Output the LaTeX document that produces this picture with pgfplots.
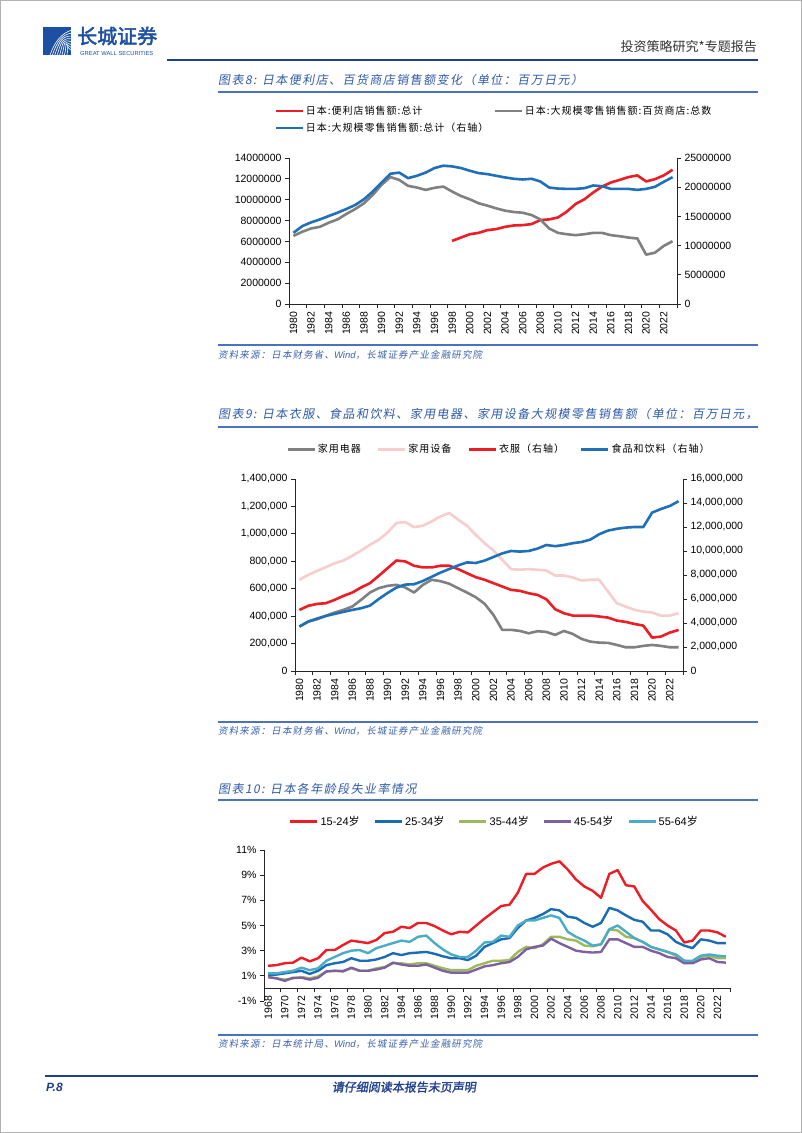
\documentclass[border=0pt]{standalone}
\usepackage{fontspec}
\usepackage{graphicx}
\usepackage{pgfplots}
\usepackage{pgfplotstable}
\pgfplotsset{compat=1.18}
\setmainfont{Liberation Sans}
\newfontfamily\cjk{Noto Sans CJK SC}
\newfontfamily\cjkit[FakeSlant=0.18,LetterSpace=12]{Noto Sans CJK SC}
\newfontfamily\cjkleg[LetterSpace=10]{Noto Sans CJK SC}
\newfontfamily\cjkbf[FakeBold=2.5]{Noto Sans CJK SC}
\newfontfamily\cjkbfit[FakeBold=1.5,FakeSlant=0.15]{Noto Sans CJK SC}
\definecolor{logoblue}{HTML}{1D50A2}
\definecolor{darkblue}{HTML}{1F3F8F}
\definecolor{titleblue}{HTML}{2F5BAA}
\definecolor{lineblue}{HTML}{4A72BE}
\definecolor{srcblue}{HTML}{3A64B0}
\definecolor{cred}{HTML}{EE1C25}
\definecolor{cgray}{HTML}{808080}
\definecolor{cblue}{HTML}{1F70B8}
\definecolor{cpink}{HTML}{F7CDCD}
\definecolor{tblue}{HTML}{1A6DB5}
\definecolor{tgreen}{HTML}{9BBB59}
\definecolor{tpurple}{HTML}{7E60A0}
\definecolor{tcyan}{HTML}{4BACC6}

\pgfplotstableread{
year dept total
1980 6530000 12180000
1981 6920000 13330000
1982 7240000 13970000
1983 7400000 14480000
1984 7790000 15060000
1985 8110000 15630000
1986 8630000 16260000
1987 9100000 16950000
1988 9660000 17930000
1989 10460000 19250000
1990 11430000 20800000
1991 12170000 22300000
1992 11900000 22500000
1993 11330000 21550000
1994 11170000 21950000
1995 10940000 22500000
1996 11140000 23280000
1997 11260000 23680000
1998 10780000 23560000
1999 10360000 23280000
2000 10040000 22820000
2001 9660000 22410000
2002 9430000 22240000
2003 9170000 21950000
2004 8950000 21670000
2005 8820000 21440000
2006 8750000 21320000
2007 8530000 21440000
2008 8110000 20980000
2009 7240000 19940000
2010 6820000 19770000
2011 6690000 19710000
2012 6600000 19710000
2013 6690000 19830000
2014 6820000 20290000
2015 6820000 20170000
2016 6600000 19710000
2017 6500000 19710000
2018 6370000 19710000
2019 6280000 19540000
2020 4730000 19710000
2021 4920000 20060000
2022 5570000 20920000
2023 6020000 21720000
}\tEightA

\pgfplotstableread{
year cvs
1998 6050000
1999 6370000
2000 6690000
2001 6820000
2002 7080000
2003 7180000
2004 7400000
2005 7530000
2006 7560000
2007 7660000
2008 8050000
2009 8110000
2010 8300000
2011 8850000
2012 9590000
2013 10040000
2014 10690000
2015 11260000
2016 11650000
2017 11900000
2018 12170000
2019 12330000
2020 11750000
2021 11970000
2022 12330000
2023 12870000
}\tEightB

\pgfplotstableread{
year elec equip cloth food
1980 324000 665000 5090000 3700000
1981 360000 701000 5430000 4120000
1982 377000 730000 5590000 4370000
1983 402000 757000 5650000 4590000
1984 426000 786000 5930000 4760000
1985 446000 806000 6260000 4930000
1986 470000 840000 6540000 5090000
1987 519000 879000 6960000 5230000
1988 572000 920000 7320000 5450000
1989 604000 957000 7930000 6000000
1990 621000 1010000 8570000 6500000
1991 628000 1079000 9210000 6950000
1992 609000 1086000 9130000 7200000
1993 572000 1049000 8770000 7230000
1994 628000 1059000 8630000 7500000
1995 665000 1091000 8630000 7850000
1996 655000 1127000 8770000 8200000
1997 636000 1152000 8770000 8500000
1998 604000 1103000 8490000 8800000
1999 572000 1059000 8150000 9050000
2000 538000 993000 7820000 9000000
2001 490000 932000 7600000 9200000
2002 409000 879000 7320000 9500000
2003 300000 811000 7040000 9800000
2004 300000 743000 6760000 10000000
2005 292000 738000 6680000 9950000
2006 275000 743000 6480000 10000000
2007 290000 738000 6340000 10200000
2008 285000 733000 5980000 10500000
2009 263000 696000 5150000 10400000
2010 292000 696000 4810000 10500000
2011 270000 682000 4620000 10650000
2012 234000 660000 4620000 10750000
2013 214000 665000 4620000 10950000
2014 207000 665000 4540000 11400000
2015 205000 579000 4450000 11700000
2016 190000 494000 4200000 11850000
2017 173000 470000 4090000 11950000
2018 173000 446000 3920000 12000000
2019 183000 433000 3780000 12000000
2020 190000 426000 2780000 13200000
2021 183000 404000 2870000 13500000
2022 173000 404000 3200000 13750000
2023 173000 421000 3420000 14150000
}\tNine

\pgfplotstableread{
year a b c d e
1968 1.8 1.1 0.9 0.9 1.2
1969 1.85 1.1 0.8 0.8 1.2
1970 2.0 1.2 0.7 0.6 1.3
1971 2.05 1.3 0.8 0.85 1.4
1972 2.45 1.4 0.9 0.85 1.65
1973 2.15 1.15 0.8 0.7 1.45
1974 2.4 1.4 0.95 0.85 1.6
1975 3.05 1.85 1.35 1.35 2.2
1976 3.05 2.0 1.4 1.4 2.5
1977 3.45 2.1 1.4 1.35 2.8
1978 3.8 2.4 1.6 1.65 3.0
1979 3.7 2.2 1.4 1.4 3.05
1980 3.6 2.2 1.4 1.4 2.8
1981 3.85 2.3 1.6 1.5 3.2
1982 4.4 2.5 1.7 1.65 3.4
1983 4.5 2.8 2.0 2.05 3.6
1984 4.9 2.65 2.0 1.9 3.8
1985 4.8 2.8 1.9 1.8 3.7
1986 5.2 2.85 2.0 1.8 4.1
1987 5.2 2.9 2.0 1.9 4.2
1988 4.95 2.75 1.8 1.65 3.6
1989 4.6 2.55 1.6 1.4 3.1
1990 4.3 2.4 1.45 1.25 2.7
1991 4.5 2.4 1.45 1.25 2.5
1992 4.45 2.25 1.45 1.25 2.5
1993 5.0 2.6 1.8 1.5 3.0
1994 5.55 3.3 2.0 1.75 3.65
1995 6.05 3.6 2.2 1.85 3.7
1996 6.55 3.9 2.2 2.0 4.2
1997 6.65 4.0 2.25 2.1 4.1
1998 7.6 4.8 2.9 2.5 5.0
1999 9.1 5.4 3.3 3.1 5.4
2000 9.1 5.6 3.2 3.3 5.4
2001 9.6 5.9 3.5 3.4 5.6
2002 9.9 6.3 4.1 3.95 5.8
2003 10.1 6.2 4.1 3.6 5.6
2004 9.45 5.7 3.9 3.3 4.5
2005 8.65 5.6 3.8 3.0 4.1
2006 8.1 5.2 3.4 2.9 3.8
2007 7.75 4.9 3.35 2.85 3.4
2008 7.2 5.2 3.5 2.9 3.5
2009 9.1 6.4 4.7 3.9 4.7
2010 9.4 6.2 4.6 3.9 5.0
2011 8.2 5.8 4.1 3.6 4.5
2012 8.1 5.45 4.0 3.3 4.0
2013 6.95 5.3 3.7 3.3 3.7
2014 6.25 4.6 3.3 3.0 3.3
2015 5.5 4.6 3.1 2.8 3.1
2016 5.0 4.3 2.9 2.5 2.9
2017 4.6 3.7 2.6 2.4 2.7
2018 3.65 3.4 2.2 2.0 2.2
2019 3.8 3.2 2.1 2.0 2.2
2020 4.6 3.9 2.5 2.3 2.6
2021 4.6 3.8 2.6 2.4 2.7
2022 4.45 3.6 2.4 2.1 2.6
2023 4.1 3.6 2.4 2.05 2.55
}\tTen

\pgfplotsset{
  common/.style={
    scale only axis, anchor=south west,
    scaled y ticks=false, scaled x ticks=false,
    axis line style={-, black!85, line width=0.8pt},
    tick style={black!85, line width=0.8pt},
    tick align=outside, major tick length=4pt, minor tick length=4pt,
    tick label style={font=\fontsize{10.5}{12}\selectfont, black},
    /pgf/number format/1000 sep={},
    /pgf/number format/assume math mode=true,
    legend image code/.code={\draw[##1] (0pt,0pt) -- (27pt,0pt);},
    legend cell align=left,
  },
  yearx/.style={
    xtick={#1}, major x tick style={draw=none},
    x tick label style={rotate=90, anchor=east},
  },
}

\begin{document}
\begin{tikzpicture}[x=1pt,y=1pt]
\path[use as bounding box] (0,0) rectangle (802,1133);
\fill[white] (0,0) rectangle (802,1133);
\draw[gray!60, line width=0.8pt] (0.4,0.4) rectangle (801.6,1132.6);

% ---------- header ----------
\begin{scope}
\clip (43,1078) rectangle (71,1106);
\fill[logoblue] (43,1078) rectangle (71,1106);
\foreach \k in {0,...,7} {
  \draw[white, line width=0.6pt] (50+\k*2.4,1078) .. controls (55+\k*2.2,1092) and (62,1100-\k*1.5) .. (72,1103-\k*3);
}
\end{scope}
\node[anchor=west, inner sep=0, text=logoblue, font=\cjkbf\fontsize{20}{20}\selectfont] at (77,1097) {长城证券};
\node[anchor=west, inner sep=0, text=logoblue, font=\fontsize{5.8}{6}\selectfont] at (80,1079) {GREAT WALL SECURITIES};
\node[anchor=east, inner sep=0, text=black!80, font=\cjk\fontsize{13}{13}\selectfont] at (757,1086) {投资策略研究*专题报告};
\draw[darkblue, line width=1.6pt] (167,1073) -- (758,1073);

% ---------- chart 8 texts ----------
\node[anchor=west, inner sep=0, text=titleblue, font=\cjkit\fontsize{12}{12}\selectfont] at (218,1053) {图表8: 日本便利店、百货商店销售额变化（单位：百万日元）};
\draw[lineblue, line width=1.1pt] (218,1041) -- (758,1041);
\draw[lineblue, line width=1.1pt] (218,788) -- (758,788);
\node[anchor=west, inner sep=0, text=srcblue, font=\cjkit\fontsize{9.5}{10}\selectfont] at (218,778) {资料来源：日本财务省、{\normalfont\itshape Wind}，长城证券产业金融研究院};

% ---------- chart 9 texts ----------
\begin{scope}
\clip (210,705) rectangle (758,735);
\node[anchor=west, inner sep=0, text=titleblue, font=\cjkit\fontsize{12}{12}\selectfont] at (218,719) {图表9: 日本衣服、食品和饮料、家用电器、家用设备大规模零售销售额（单位：百万日元，};
\end{scope}
\draw[lineblue, line width=1.1pt] (218,706) -- (758,706);
\draw[lineblue, line width=1.1pt] (218,411) -- (758,411);
\node[anchor=west, inner sep=0, text=srcblue, font=\cjkit\fontsize{9.5}{10}\selectfont] at (218,402) {资料来源：日本财务省、{\normalfont\itshape Wind}，长城证券产业金融研究院};

% ---------- chart 10 texts ----------
\node[anchor=west, inner sep=0, text=titleblue, font=\cjkit\fontsize{12}{12}\selectfont] at (218,344) {图表10: 日本各年龄段失业率情况};
\draw[lineblue, line width=1.1pt] (218,333) -- (758,333);
\draw[lineblue, line width=1.1pt] (218,98) -- (758,98);
\node[anchor=west, inner sep=0, text=srcblue, font=\cjkit\fontsize{9.5}{10}\selectfont] at (218,89) {资料来源：日本统计局、{\normalfont\itshape Wind}，长城证券产业金融研究院};

% ---------- footer ----------
\draw[darkblue, line width=1.8pt] (45,57) -- (758,57);
\node[anchor=west, inner sep=0, text=darkblue, font=\bfseries\itshape\fontsize{12}{12}\selectfont] at (46,46) {P.8};
\node[inner sep=0, text=darkblue, font=\cjkbfit\fontsize{12}{12}\selectfont] at (404,46) {请仔细阅读本报告末页声明};

% ---------- chart 8 ----------
\begin{axis}[common, at={(289pt,829pt)}, width=388pt, height=146pt,
  xmin=1979.5, xmax=2023.5, ymin=0, ymax=14000000,
  axis x line*=bottom, axis y line*=left,
  yearx={1980,1982,...,2022},
  minor xtick={1979.5,1981.5,...,2023.5},
  ytick={0,2000000,4000000,6000000,8000000,10000000,12000000,14000000},
  yticklabels={0,2000000,4000000,6000000,8000000,10000000,12000000,14000000},
  legend columns=2,
  legend style={draw=none, fill=none, at={(0,1)}, anchor=north west, xshift=-18pt, yshift=56pt,
    font=\cjkleg\fontsize{10}{11}\selectfont, row sep=3pt,
    /tikz/every even column/.append style={column sep=3pt}},
]
\addplot[cred, line width=2.6pt, line join=round] table[x=year, y=cvs] {\tEightB};
\addlegendentry{日本:便利店销售额:总计}
\addplot[cgray, line width=2.6pt, line join=round] table[x=year, y=dept] {\tEightA};
\addlegendentry{日本:大规模零售销售额:百货商店:总数}
\addlegendimage{cblue, line width=2.6pt}
\addlegendentry{日本:大规模零售销售额:总计（右轴）}
\end{axis}
\begin{axis}[common, at={(289pt,829pt)}, width=388pt, height=146pt,
  xmin=1979.5, xmax=2023.5, ymin=0, ymax=25000000,
  axis x line=none, axis y line*=right,
  ytick={0,5000000,10000000,15000000,20000000,25000000},
  yticklabels={0,5000000,10000000,15000000,20000000,25000000},
]
\addplot[cblue, line width=2.6pt, line join=round] table[x=year, y=total] {\tEightA};
\end{axis}

% ---------- chart 9 ----------
\begin{axis}[common, at={(295pt,462pt)}, width=388pt, height=192pt,
  xmin=1979.5, xmax=2023.5, ymin=0, ymax=1400000,
  axis x line*=bottom, axis y line*=left,
  yearx={1980,1982,...,2022},
  minor xtick={1979.5,1981.5,...,2023.5},
  ytick={0,200000,400000,600000,800000,1000000,1200000,1400000},
  yticklabels={0,{200,000},{400,000},{600,000},{800,000},{1,000,000},{1,200,000},{1,400,000}},
  legend columns=4,
  legend style={draw=none, fill=none, at={(0,1)}, anchor=north west, xshift=-12pt, yshift=39pt,
    font=\cjkleg\fontsize{10}{11}\selectfont,
    /tikz/every even column/.append style={column sep=14pt}},
]
\addplot[cgray, line width=2.6pt, line join=round] table[x=year, y=elec] {\tNine};
\addlegendentry{家用电器}
\addplot[cpink, line width=2.6pt, line join=round] table[x=year, y=equip] {\tNine};
\addlegendentry{家用设备}
\addlegendimage{cred, line width=2.6pt}
\addlegendentry{衣服（右轴）}
\addlegendimage{cblue, line width=2.6pt}
\addlegendentry{食品和饮料（右轴）}
\end{axis}
\begin{axis}[common, at={(295pt,462pt)}, width=388pt, height=192pt,
  xmin=1979.5, xmax=2023.5, ymin=0, ymax=16000000,
  axis x line=none, axis y line*=right,
  ytick={0,2000000,4000000,6000000,8000000,10000000,12000000,14000000,16000000},
  yticklabels={0,{2,000,000},{4,000,000},{6,000,000},{8,000,000},{10,000,000},{12,000,000},{14,000,000},{16,000,000}},
]
\addplot[cred, line width=2.6pt, line join=round] table[x=year, y=cloth] {\tNine};
\addplot[cblue, line width=2.6pt, line join=round] table[x=year, y=food] {\tNine};
\end{axis}

% ---------- chart 10 ----------
\begin{axis}[common, at={(264pt,132pt)}, width=466pt, height=151pt,
  xmin=1967.5, xmax=2023.5, ymin=-1, ymax=11,
  axis x line*=middle, axis y line*=left,
  yearx={1968,1970,...,2022},
  minor xtick={1967.5,1969.5,...,2023.5},
  ytick={-1,1,3,5,7,9,11},
  yticklabels={-1\%,1\%,3\%,5\%,7\%,9\%,11\%},
  legend columns=5,
  legend style={draw=none, fill=none, at={(0,1)}, anchor=north west, xshift=22pt, yshift=38pt,
    font=\fontsize{11}{12}\selectfont,
    /tikz/every even column/.append style={column sep=12pt}},
]
\addplot[cred, line width=2.4pt, line join=round] table[x=year, y=a] {\tTen};
\addlegendentry{15-24{\cjk 岁}}
\addplot[tblue, line width=2.4pt, line join=round] table[x=year, y=b] {\tTen};
\addlegendentry{25-34{\cjk 岁}}
\addplot[tgreen, line width=2.4pt, line join=round] table[x=year, y=c] {\tTen};
\addlegendentry{35-44{\cjk 岁}}
\addplot[tpurple, line width=2.4pt, line join=round] table[x=year, y=d] {\tTen};
\addlegendentry{45-54{\cjk 岁}}
\addplot[tcyan, line width=2.4pt, line join=round] table[x=year, y=e] {\tTen};
\addlegendentry{55-64{\cjk 岁}}
\end{axis}
\end{tikzpicture}
\end{document}
